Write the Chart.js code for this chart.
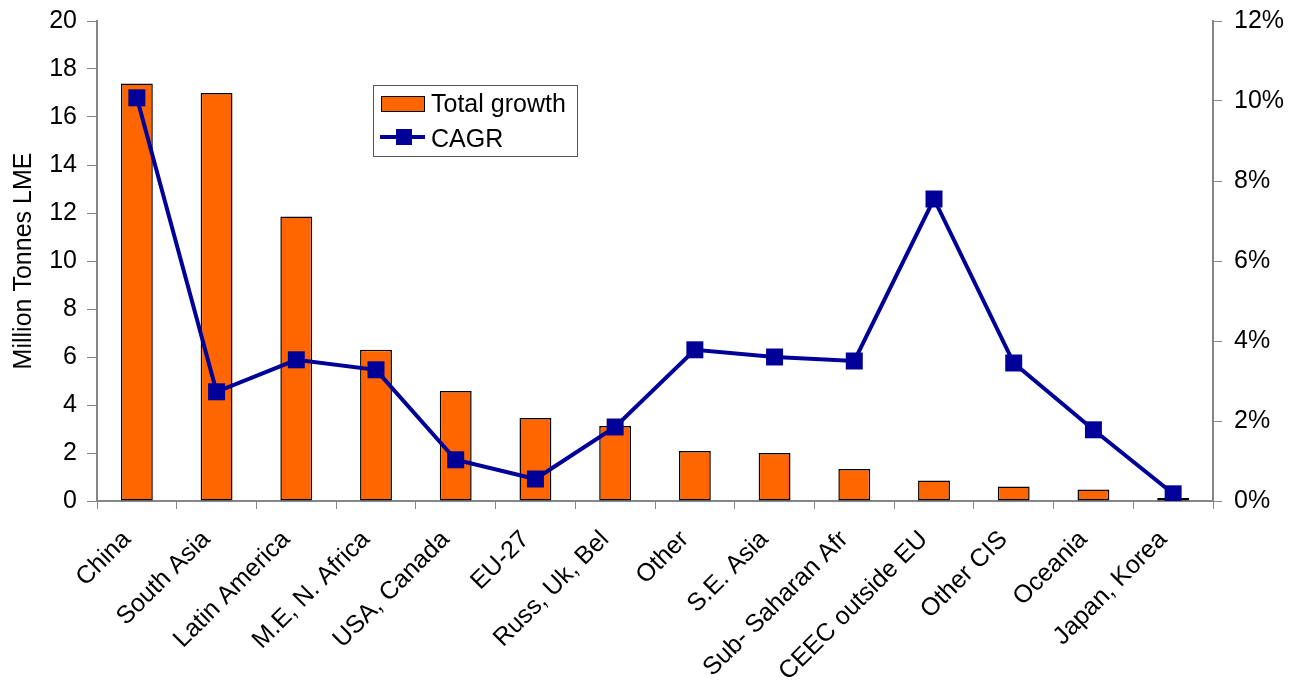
<!DOCTYPE html>
<html lang="en">
<head>
    <meta charset="UTF-8">
    <title>Total growth and CAGR by region</title>
    <style>
        body { margin: 0; background: #fff; }
        #wrap { width: 1289px; height: 684px; }
    </style>
</head>
<body>
    <div id="wrap"><canvas id="growth_chart"></canvas></div>
</body>
<script src="https://cdn.jsdelivr.net/npm/chart.js@4.4.1/dist/chart.umd.min.js"></script>
<script>
    const regions = ['China', 'South Asia', 'Latin America', 'M.E, N. Africa', 'USA, Canada', 'EU-27',
        'Russ, Uk, Bel', 'Other', 'S.E. Asia', 'Sub- Saharan Afr', 'CEEC outside EU', 'Other CIS',
        'Oceania', 'Japan, Korea'];
    // million tonnes LME
    const totalGrowth = [17.4, 17.0, 11.85, 6.3, 4.58, 3.46, 3.13, 2.08, 2.0, 1.33, 0.85, 0.6, 0.48, 0.12];
    // percent
    const cagr = [10.08, 2.73, 3.53, 3.28, 1.03, 0.55, 1.85, 3.78, 3.6, 3.5, 7.55, 3.45, 1.78, 0.18];

    const axisGrey = '#868686';
    const font = { family: 'Liberation Sans, Arial, sans-serif', size: 25 };

    // legend box drawn inside the plot like the Excel original
    const boxLegend = {
        id: 'boxLegend',
        afterDraw(chart) {
            const c = chart.ctx;
            c.save();
            c.fillStyle = '#fff';
            c.fillRect(373, 85, 204, 71);
            c.strokeStyle = '#555';
            c.lineWidth = 1;
            c.strokeRect(373.5, 85.5, 204, 71);

            c.fillStyle = '#FF6600';
            c.fillRect(381, 96, 43, 15);
            c.strokeStyle = '#000';
            c.strokeRect(381.5, 96.5, 43, 15);

            c.strokeStyle = '#000099';
            c.lineWidth = 4;
            c.beginPath();
            c.moveTo(380, 137);
            c.lineTo(425, 137);
            c.stroke();
            c.fillStyle = '#000099';
            c.fillRect(396, 129, 16, 16);

            c.fillStyle = '#000';
            c.font = '25px Liberation Sans, Arial, sans-serif';
            c.textBaseline = 'alphabetic';
            c.fillText('Total growth', 431, 112);
            c.fillText('CAGR', 431, 147);
            c.restore();
        }
    };

    const ctx = document.getElementById('growth_chart').getContext('2d');

    new Chart(ctx, {
        data: {
            labels: regions,
            datasets: [{
                type: 'line',
                label: 'CAGR',
                data: cagr,
                yAxisID: 'y1',
                order: 0,
                borderColor: '#000099',
                borderWidth: 4,
                tension: 0,
                pointStyle: 'rect',
                pointRadius: 12,
                pointHoverRadius: 12,
                pointBackgroundColor: '#000099',
                pointBorderWidth: 0
            }, {
                type: 'bar',
                label: 'Total growth',
                data: totalGrowth,
                yAxisID: 'y',
                order: 1,
                backgroundColor: '#FF6600',
                borderColor: '#000',
                borderWidth: 1.5,
                borderSkipped: false,
                barPercentage: 0.4,
                categoryPercentage: 1
            }]
        },
        options: {
            responsive: true,
            maintainAspectRatio: false,
            animation: false,
            layout: { padding: { top: 21, left: 0, right: 0, bottom: 0 } },
            plugins: {
                legend: { display: false },
                tooltip: { enabled: false }
            },
            scales: {
                x: {
                    offset: true,
                    afterFit: s => { s.height = 183; },
                    grid: { offset: true, drawOnChartArea: false, tickLength: 8, color: axisGrey },
                    border: { color: axisGrey, width: 2 },
                    ticks: { color: '#000', font: font, minRotation: 45, maxRotation: 45, padding: 16, labelOffset: -10 }
                },
                y: {
                    position: 'left',
                    min: 0,
                    max: 20,
                    afterFit: s => { s.width = 97; s.paddingTop = 0; s.paddingBottom = 0; },
                    grid: { drawOnChartArea: false, tickLength: 10, color: axisGrey },
                    border: { color: axisGrey, width: 2 },
                    ticks: { stepSize: 2, color: '#000', font: font, padding: 10 },
                    title: { display: true, text: 'Million Tonnes LME', color: '#000', font: font, padding: { top: 9, bottom: 0 } }
                },
                y1: {
                    position: 'right',
                    min: 0,
                    max: 12,
                    afterFit: s => { s.width = 76; s.paddingTop = 0; s.paddingBottom = 0; },
                    grid: { drawOnChartArea: false, tickLength: 9, color: axisGrey },
                    border: { color: axisGrey, width: 2 },
                    ticks: { stepSize: 2, color: '#000', font: font, padding: 12, callback: v => v + '%' }
                }
            }
        },
        plugins: [boxLegend]
    });
</script>
</html>
